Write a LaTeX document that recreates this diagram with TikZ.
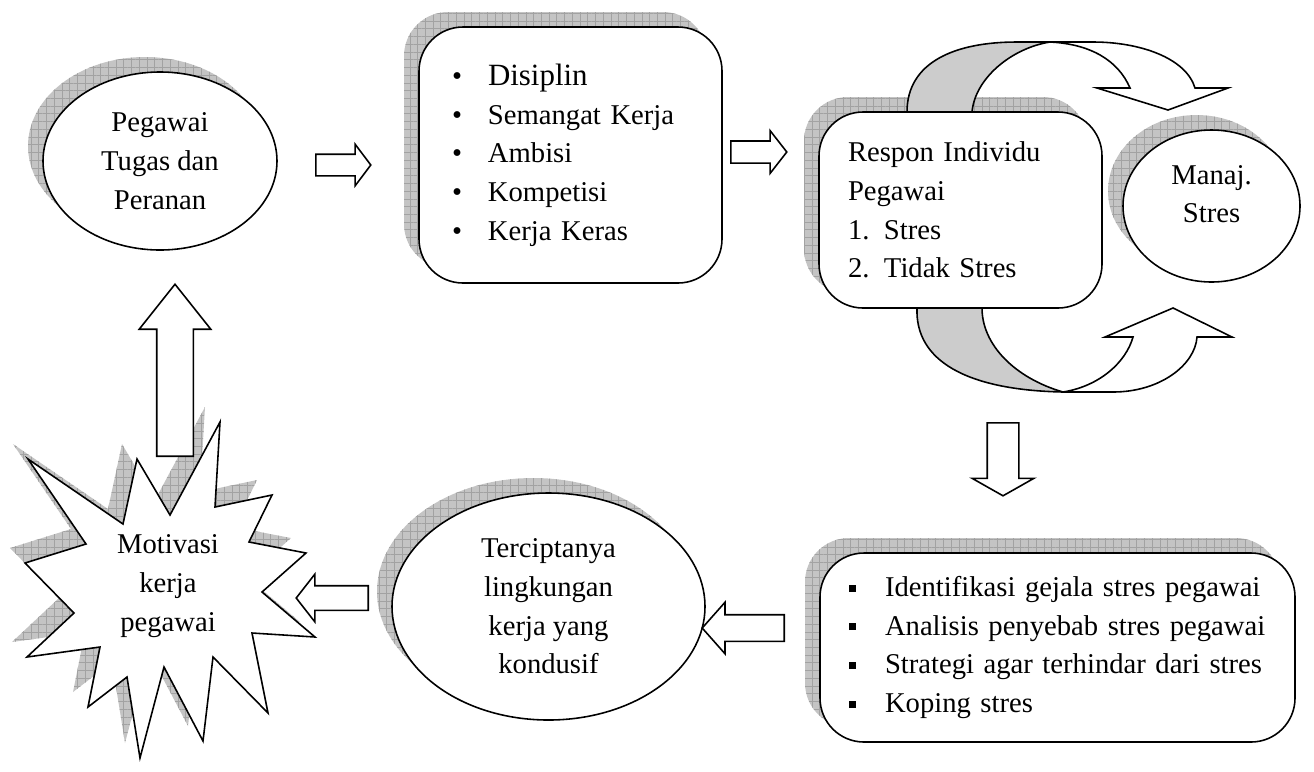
\documentclass[tikz,border=0pt]{standalone}
\usepackage{fontspec}
\setmainfont{Liberation Serif}
\usepackage{xcolor}
\definecolor{shadowgrey}{HTML}{C4C4C4}
\definecolor{gridgrey}{HTML}{A2A2A2}
\definecolor{bendgrey}{HTML}{CCCCCC}
\usepackage{tikz}
\usetikzlibrary{shapes.geometric,shapes.arrows,patterns.meta,calc}
\newcommand{\itm}[1]{\makebox[7.2mm][l]{#1}}
\newcommand{\sqbullet}{\rule[1mm]{1.4mm}{1.4mm}}

\begin{document}
\begin{tikzpicture}[
    x=0.2mm, y=-0.2mm,
    outline/.style={draw=black, line width=0.9pt},
    hatched/.style={
      preaction={fill=shadowgrey, transform canvas={xshift=-3mm, yshift=3mm}},
      preaction={pattern={Hatch[angle=0, distance=4.4pt, line width=0.3pt]}, pattern color=gridgrey, transform canvas={xshift=-3mm, yshift=3mm}}},
    oval/.style={ellipse, outline, fill=white, hatched, inner sep=0pt, align=center, font=\fontsize{16.3}{22}\selectfont},
    listbox/.style={rectangle, rounded corners=8.8mm, outline, fill=white, hatched, align=left, inner xsep=5.8mm, font=\fontsize{16.3}{22}\selectfont},
    blockarrow/.style={single arrow, outline, fill=white, inner sep=#1, single arrow head extend=#1, anchor=tail},
  ]
    \useasboundingbox (0,0) rectangle (1314,771);

    % star
    \draw[outline, fill=white, hatched] (28,459) -- (123,524) -- (137,459) -- (170,515) -- (220,422) -- (215,507) -- (272,495) -- (249,542) -- (306,553) -- (262,592) -- (315,637) -- (252,633) -- (268,713) -- (213,657) -- (203,741) -- (164,667) -- (140,758) -- (127,677) -- (88,707) -- (100,647) -- (27,657) -- (74,613) -- (25,563) -- (86,544) -- cycle;
    \node[align=center, font=\fontsize{16.3}{22}\selectfont] (motivasi) at (168,586) {Motivasi\\kerja\\pegawai};

    \node[oval, minimum width=46.8mm, minimum height=35.6mm] (pegawai) at (160,161) {Pegawai\\Tugas dan\\Peranan};
    \node[listbox, text width=47.4mm, inner xsep=6.6mm, minimum height=51.2mm] (faktor) at (570.5,155) {\itm{\textbullet}{\fontsize{17.6}{22}\selectfont Disiplin}\\
      \itm{\textbullet}Semangat Kerja\\
      \itm{\textbullet}Ambisi\\
      \itm{\textbullet}Kompetisi\\
      \itm{\textbullet}Kerja Keras};
    \node[listbox, text width=45mm, minimum height=39.2mm] (respon) at (960.5,210) {Respon Individu\\
      Pegawai\\
      \itm{1.}Stres\\
      \itm{2.}Tidak Stres};
    \node[oval, minimum width=35.4mm, minimum height=30.4mm] (manaj) at (1211.5,206) {Manaj.\\Stres\\[-3mm]\mbox{}};
    \node[listbox, text width=83.4mm, minimum height=37.8mm] (upaya) at (1057.5,647.5) {\itm{\sqbullet}Identifikasi gejala stres pegawai\\
      \itm{\sqbullet}Analisis penyebab stres pegawai\\
      \itm{\sqbullet}Strategi agar terhindar dari stres\\
      \itm{\sqbullet}Koping stres};
    \node[oval, minimum width=62.6mm, minimum height=45.4mm] (kondusif) at (548.5,606.5) {Terciptanya\\lingkungan\\kerja yang\\kondusif};

    % curved arrows round manaj
    \filldraw[outline, fill=bendgrey] (907,112) .. controls (907,62) and (955,42) .. (1017,42) -- (1050,42) .. controls (1012,48) and (975,78) .. (972,112) -- cycle;
    \filldraw[outline, fill=white] (1050,42) -- (1093,42) .. controls (1140,42) and (1186,58) .. (1195,88) -- (1228,88) -- (1168,110) -- (1097,88) -- (1130,88) .. controls (1118,60) and (1090,44) .. (1050,42) -- cycle;
    \filldraw[outline, fill=bendgrey] (917,308) .. controls (915,360) and (965,390) .. (1063,392) .. controls (1015,378) and (982,345) .. (982,308) -- cycle;
    \filldraw[outline, fill=white] (1063,392) -- (1113,392) .. controls (1160,392) and (1195,365) .. (1197,337) -- (1232,337) -- (1173,308) -- (1105,337) -- (1133,337) .. controls (1126,362) and (1100,386) .. (1063,392) -- cycle;

    % block arrows
    \node[blockarrow=2mm, minimum height=11mm, single arrow tip angle=106] (panah1) at (315,165) {};
    \node[blockarrow=2.05mm, minimum height=11.2mm, single arrow tip angle=104] (panah2) at (730,152) {};
    \node[blockarrow=3mm, minimum height=14.6mm, single arrow tip angle=121, shape border rotate=270] (panah3) at (1003,422) {};
    \node[blockarrow=2.5mm, minimum height=16.4mm, single arrow tip angle=97, shape border rotate=180] (panah4) at (785,628) {};
    \node[blockarrow=2.3mm, minimum height=14.4mm, single arrow tip angle=104, shape border rotate=180] (panah5) at (369,598) {};
    \node[blockarrow=3.5mm, minimum height=34.4mm, single arrow tip angle=77, shape border rotate=90] (panah6) at (175,457) {};
  \end{tikzpicture}
\end{document}
